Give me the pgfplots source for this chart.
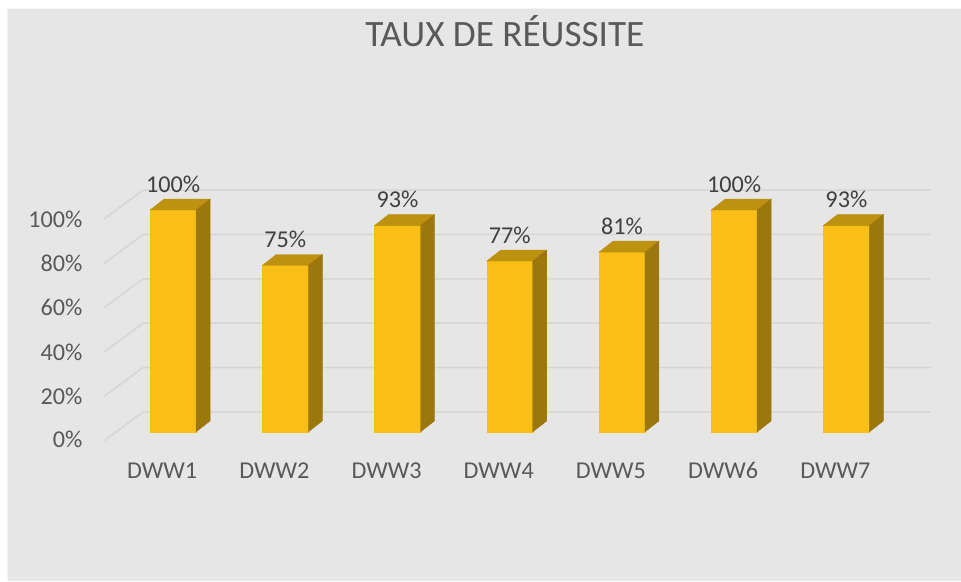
\documentclass[border=0pt]{standalone}
\usepackage{pgfplots}
\usepackage{pgfplotstable}
\pgfplotsset{compat=1.18}
\usepackage{fontspec}
\setmainfont{Carlito}
\definecolor{bgc}{HTML}{E6E6E6}
\definecolor{gridc}{HTML}{D6D6D6}
\definecolor{frontc}{HTML}{F9BF16}
\definecolor{topc}{HTML}{BE9211}
\definecolor{sidec}{HTML}{9C780C}
\definecolor{labc}{HTML}{595959}
\definecolor{datac}{HTML}{404040}

\pgfplotstableread{
x y
0 100
1 75
2 93
3 77
4 81
5 100
6 93
}\data

\newcommand\cube[1]{%
  \pgfplotstablegetelem{#1}{y}\of\data
  \pgfmathsetmacro\vv{\pgfplotsretval}%
  \pgfmathsetmacro\vt{\vv+4.95}%
  \pgfmathsetmacro\xa{#1-0.205}%
  \pgfmathsetmacro\xb{#1+0.205}%
  \pgfmathsetmacro\xc{#1-0.08}%
  \pgfmathsetmacro\xd{#1+0.33}%
  \edef\tmp{%
    \noexpand\addplot[fill=frontc, draw=frontc, line width=0.2pt] coordinates {(\xa,0) (\xa,\vv) (\xb,\vv) (\xb,0)} -- cycle;
    \noexpand\addplot[fill=topc, draw=topc, line width=0.2pt] coordinates {(\xa,\vv) (\xc,\vt) (\xd,\vt) (\xb,\vv)} -- cycle;
    \noexpand\addplot[fill=sidec, draw=sidec, line width=0.2pt] coordinates {(\xb,0) (\xd,4.95) (\xd,\vt) (\xb,\vv)} -- cycle;
  }\tmp
}

\begin{document}
\begin{tikzpicture}
\begin{axis}[
  scale only axis, width=480.5pt, height=290.5pt,
  xmin=-1.5405, xmax=7.0169, ymin=-67.12, ymax=194.59,
  axis line style={draw=none}, major tick length=0pt,
  axis background/.style={fill=bgc},
  clip=false,
  /pgf/number format/assume math mode=true,
  xtick={0,...,6},
  xticklabels={DWW1,DWW2,DWW3,DWW4,DWW5,DWW6,DWW7},
  ytick={-7.2,12.4,32.2,52.3,72.1,91.9},
  yticklabels={0\%,20\%,40\%,60\%,80\%,100\%},
  xticklabel style={anchor=base, inner sep=0pt, yshift=51pt, xshift=-5.5pt, font=\fontsize{12.1}{14}\selectfont, text=labc},
  yticklabel style={anchor=base east, inner sep=0pt, xshift=41.35pt, font=\fontsize{12.1}{14}\selectfont, text=labc},
  title={TAUX DE RÉUSSITE},
  every axis title shift=0pt,
  title style={at={(0.5255,0.9208)}, anchor=base, inner sep=0pt, font=\fontsize{18.6}{22}\selectfont, text=labc},
]
\fill[white] (axis cs:-1.5405,194.59) rectangle (axis cs:-1.478,-67.12);
\fill[white] (axis cs:-1.5405,194.59) rectangle (axis cs:7.0169,191.0);
\draw[white!92!gray, line width=0.5pt] (axis cs:-1.478,-67.12) -- (axis cs:-1.478,191.0) -- (axis cs:7.0169,191.0);
% gridlines (front-left end, back-left corner, back-right end)
\addplot[gridc, line width=0.75pt] coordinates {(-0.614,-4) (-0.267,9) (6.75,9)};
\addplot[gridc, line width=0.75pt] coordinates {(-0.614,16) (-0.267,29) (6.75,29)};
\addplot[gridc, line width=0.75pt] coordinates {(-0.614,36) (-0.267,49) (6.75,49)};
\addplot[gridc, line width=0.75pt] coordinates {(-0.614,56) (-0.267,69) (6.75,69)};
\addplot[gridc, line width=0.75pt] coordinates {(-0.614,76) (-0.267,89) (6.75,89)};
\addplot[gridc, line width=0.75pt] coordinates {(-0.614,96) (-0.267,109) (6.75,109)};
\cube{0}\cube{1}\cube{2}\cube{3}\cube{4}\cube{5}\cube{6}
\addplot[draw=none, mark=none, point meta=y,
  nodes near coords={\pgfmathprintnumber{\pgfplotspointmeta}\%},
  every node near coord/.append style={inner sep=0pt, yshift=8.7pt, font=\fontsize{12.1}{14}\selectfont, text=datac}]
  table[x=x, y=y] {\data};
\end{axis}
\end{tikzpicture}
\end{document}
